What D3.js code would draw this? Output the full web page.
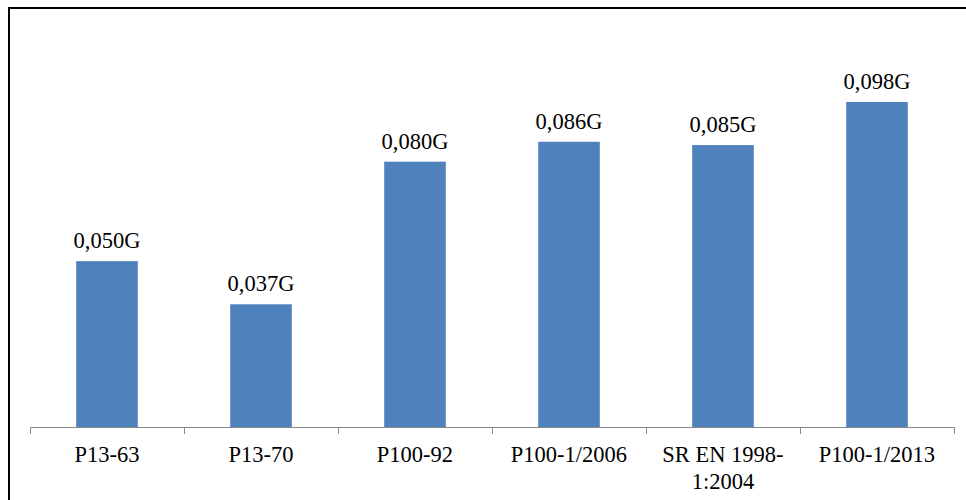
<!DOCTYPE html>
<html>
<head>
<meta charset="utf-8">
<script src="https://cdn.jsdelivr.net/npm/d3@7"></script>
<style>
  html, body { margin: 0; padding: 0; background: #fff; }
  svg { display: block; }
</style>
</head>
<body>
<svg id="chart" width="966" height="500"></svg>
<script>
// Standards compared and the design value each one gives
const categories = ["P13-63", "P13-70", "P100-92", "P100-1/2006", "SR EN 1998-1:2004", "P100-1/2013"];
const categoryLines = [["P13-63"], ["P13-70"], ["P100-92"], ["P100-1/2006"], ["SR EN 1998-", "1:2004"], ["P100-1/2013"]];
const values = [0.050, 0.037, 0.080, 0.086, 0.085, 0.098];
const valueLabels = ["0,050G", "0,037G", "0,080G", "0,086G", "0,085G", "0,098G"];

const svg = d3.select("#chart");
const font = "'Liberation Serif', 'Times New Roman', serif";
const fontSize = 22.5;

// Outer frame
svg.append("rect")
  .attr("x", 9).attr("y", 8)
  .attr("width", 966).attr("height", 520)
  .attr("fill", "none")
  .attr("stroke", "#000")
  .attr("stroke-width", 2);

const x = d3.scaleBand().domain(categories).range([30, 954]).paddingInner(0).paddingOuter(0);
const y = d3.scaleLinear().domain([0, 0.12]).range([427, 29]);
const barW = x.bandwidth() * 0.4;

// Bars
svg.append("g").selectAll("rect")
  .data(categories)
  .join("rect")
  .attr("x", (d) => x(d) + (x.bandwidth() - barW) / 2)
  .attr("y", (d, i) => y(values[i]))
  .attr("width", barW)
  .attr("height", (d, i) => y(0) - y(values[i]))
  .attr("fill", "#4F81BD");

// Value labels
svg.append("g").selectAll("text")
  .data(categories)
  .join("text")
  .attr("x", (d) => x(d) + x.bandwidth() / 2)
  .attr("y", (d, i) => y(values[i]) - 12.8)
  .attr("text-anchor", "middle")
  .attr("font-family", font)
  .attr("font-size", fontSize)
  .attr("fill", "#000")
  .text((d, i) => valueLabels[i]);

// Category axis with tick marks at band edges
const axisG = svg.append("g");
axisG.append("line")
  .attr("x1", 30).attr("x2", 954)
  .attr("y1", 427.5).attr("y2", 427.5)
  .attr("stroke", "#898989").attr("stroke-width", 1);
const edges = categories.map((d) => x(d)).concat([x.range()[1]]);
axisG.selectAll("line.tick")
  .data(edges)
  .join("line")
  .attr("class", "tick")
  .attr("x1", (d) => Math.round(d) + 0.5).attr("x2", (d) => Math.round(d) + 0.5)
  .attr("y1", 427).attr("y2", 434)
  .attr("stroke", "#898989").attr("stroke-width", 1);

const labels = axisG.selectAll("text.cat")
  .data(categories)
  .join("text")
  .attr("class", "cat")
  .attr("x", (d) => x(d) + x.bandwidth() / 2)
  .attr("y", 462)
  .attr("text-anchor", "middle")
  .attr("font-family", font)
  .attr("font-size", fontSize)
  .attr("fill", "#000");
labels.each(function (d, i) {
  const t = d3.select(this);
  categoryLines[i].forEach((line, j) => {
    t.append("tspan")
      .attr("x", x(d) + x.bandwidth() / 2)
      .attr("dy", j === 0 ? 0 : 27)
      .text(line);
  });
});
</script>
</body>
</html>
